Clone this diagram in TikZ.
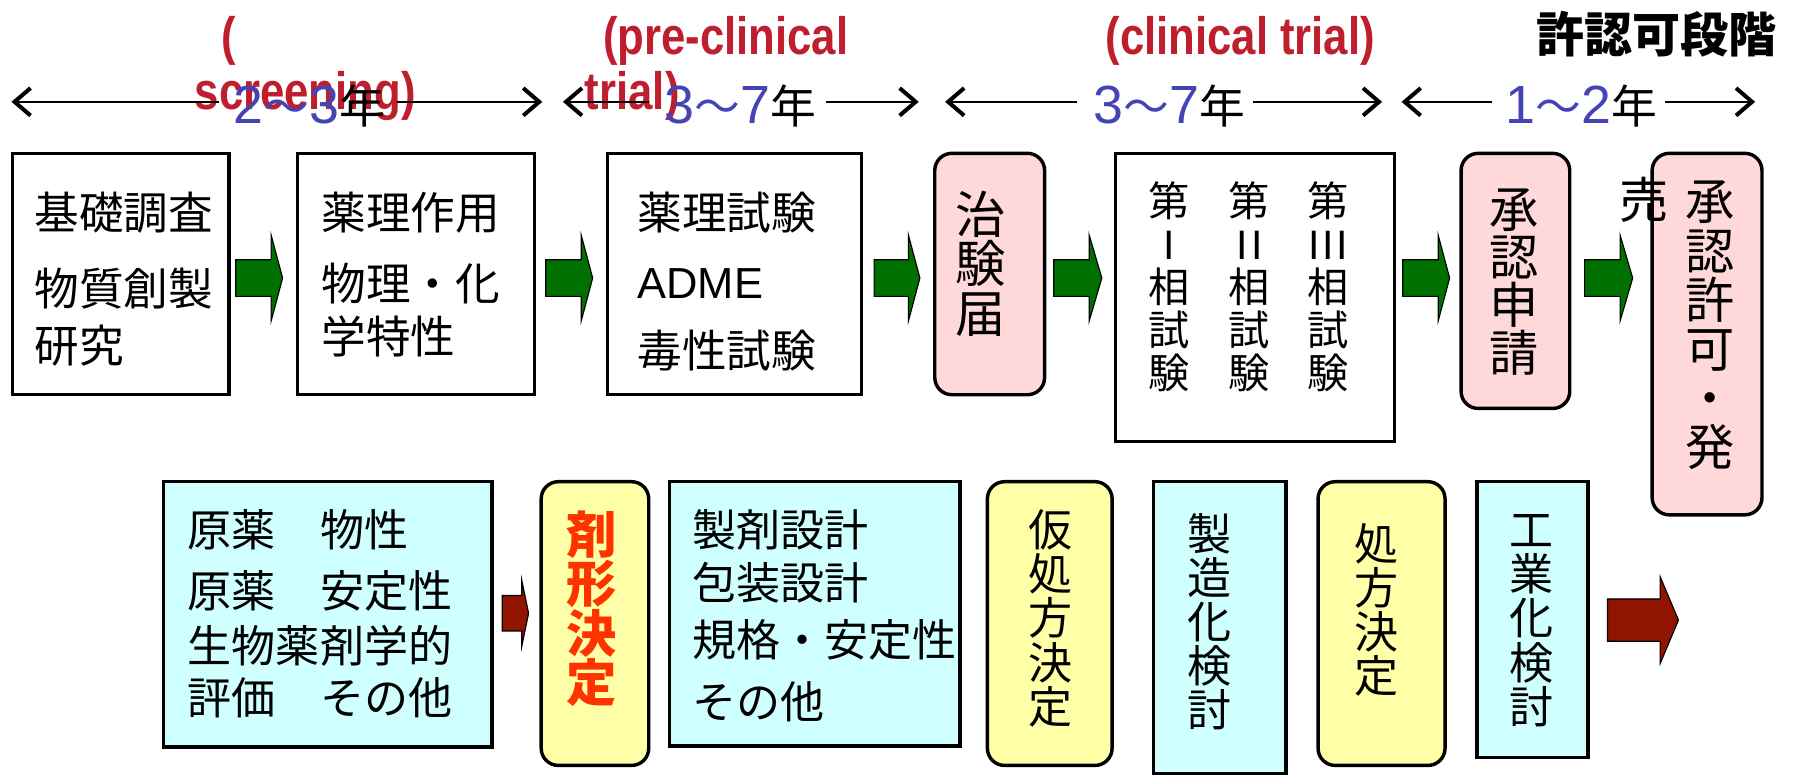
\documentclass[tikz,border=0pt]{standalone}
\usepackage{fontspec}
\usetikzlibrary{arrows.meta}
\setmainfont{Noto Sans CJK JP}
\newfontfamily\lsans{Liberation Sans}
\newfontfamily\narrowsans[FakeStretch=0.83]{Liberation Sans}
\definecolor{pinkbox}{RGB}{255,217,217}
\definecolor{cyanbox}{RGB}{208,255,255}
\definecolor{yelbox}{RGB}{255,255,168}
\definecolor{grn}{RGB}{0,112,0}
\definecolor{darkred}{RGB}{145,20,0}
\definecolor{redtxt}{RGB}{190,30,45}
\definecolor{bluetxt}{RGB}{68,68,180}
\definecolor{orangered}{RGB}{255,51,0}
\newcommand\yrnum[1]{{\lsans\fontsize{47}{50}\selectfont\color{bluetxt}#1}}
\newcommand\yrcjk[1]{{\fontsize{40}{44}\selectfont #1}}
\newcommand\vfa{\fontsize{44}{43}\selectfont}
\newcommand\vfb{\fontsize{43}{42}\selectfont}
\newcommand\vfc{\fontsize{43}{43}\selectfont}
\newcommand\vfd{\fontsize{38.5}{38.5}\selectfont}
\newcommand\vfe{\fontsize{36}{37.5}\selectfont}
\tikzset{
  box/.style={draw=black, line width=3pt, inner sep=0pt},
  whitebox/.style={box, fill=white},
  pinkb/.style={box, fill=pinkbox, rounded corners=15pt},
  yelb/.style={box, fill=yelbox, rounded corners=15pt},
  cyanb/.style={box, fill=cyanbox},
  txt/.style={inner sep=0pt, anchor=west, font=\fontsize{39}{44}\selectfont},
  txtb/.style={inner sep=0pt, anchor=west, font=\fontsize{38.5}{44}\selectfont},
  vtxt/.style={inner sep=0pt, align=center},
  redlab/.style={inner sep=0pt, anchor=base west, text=redtxt, font=\narrowsans\bfseries\fontsize{46}{46}\selectfont},
  yrlab/.style={inner sep=0pt, anchor=base},
  yline/.style={line width=1.5pt, -{Straight Barb[length=14pt,width=24pt,line width=3.5pt]}},
  fatarr/.style={draw=black, line width=1pt},
  pics/fatarrow/.style n args={4}{code={\path[pic actions] (0,-#3) -- (#1,-#3) -- (#1,-#4) -- (#2,0) -- (#1,#4) -- (#1,#3) -- (0,#3) -- cycle;}},
}
\begin{document}
\lineskiplimit=-100pt
\begin{tikzpicture}[x=1pt,y=-1pt]
\useasboundingbox (0,0) rectangle (1568,677);

% red phase labels
\node[redlab] (rs1) at (193,47.5) {(};
\node[redlab] (rs2) at (170,96) {screening)};
\node[redlab] (rp1) at (527,47.5) {(pre-clinical};
\node[redlab] (rp2) at (511,96) {trial)};
\node[redlab] (rc1) at (966,47.5) {(clinical trial)};

% duration arrows
\coordinate (l1) at (10,89);   \coordinate (r1) at (474,89);
\coordinate (l2) at (492,89);  \coordinate (r2) at (803,89);
\coordinate (l3) at (826,89);  \coordinate (r3) at (1208,89);
\coordinate (l4) at (1225,89); \coordinate (r4) at (1534,89);
\node[yrlab] (t1) at (270.5,108) {\yrnum{2}\yrcjk{\color{bluetxt}～}\yrnum{3}\yrcjk{年}};
\node[yrlab] (t2) at (647,108) {\yrnum{3}\yrcjk{\color{bluetxt}～}\yrnum{7}\yrcjk{年}};
\node[yrlab] (t3) at (1022,108) {\yrnum{3}\yrcjk{\color{bluetxt}～}\yrnum{7}\yrcjk{年}};
\node[yrlab] (t4) at (1382,108) {\yrnum{1}\yrcjk{\color{bluetxt}～}\yrnum{2}\yrcjk{年}};
\draw[yline, shorten <=13pt] (t1.west |- l1) -- (l1);
\draw[yline, shorten <=10pt] (t1.east |- r1) -- (r1);
\draw[yline, shorten <=13pt] (t2.west |- l2) -- (l2);
\draw[yline, shorten <=9pt] (t2.east |- r2) -- (r2);
\draw[yline, shorten <=14pt] (t3.west |- l3) -- (l3);
\draw[yline, shorten <=7pt] (t3.east |- r3) -- (r3);
\draw[yline, shorten <=12pt] (t4.west |- l4) -- (l4);
\draw[yline, shorten <=7pt] (t4.east |- r4) -- (r4);

\node[inner sep=0pt, anchor=base, font=\bfseries\fontsize{42}{42}\selectfont] (stage) at (1448,46) {許認可段階};

% row 1
\node[whitebox, minimum width=189pt, minimum height=211pt] (b1) at (105.5,239.5) {};
\node[txt] (b1a) at (30,186) {基礎調査};
\node[txt] (b1b) at (30,252) {物質創製};
\node[txt] (b1c) at (30,302) {研究};

\node[whitebox, minimum width=207pt, minimum height=211pt] (b2) at (363.5,239.5) {};
\node[txt] (b2a) at (281,186) {薬理作用};
\node[txt] (b2b) at (281,248) {物理・化};
\node[txt] (b2c) at (281,294) {学特性};

\node[whitebox, minimum width=222pt, minimum height=211pt] (b3) at (642,239.5) {};
\node[txt] (b3a) at (557,186) {薬理試験};
\node[txt, font=\lsans\fontsize{38}{44}\selectfont] (b3b) at (557,248) {ADME};
\node[txt] (b3c) at (557,306) {毒性試験};

\node[pinkb, minimum width=96pt, minimum height=211pt] (b4) at (865,239.5) {};
\node[vtxt, font=\vfa] (b4t) at (857,230.5) {治\\験\\届};

\node[whitebox, minimum width=244pt, minimum height=252pt] (b5) at (1097,260) {};
\node[vtxt, font=\vfe] (b5a) at (1022,250.5) {第\\{\lsans I}\\相\\試\\験};
\node[vtxt, font=\vfe] (b5b) at (1092,250.5) {第\\{\lsans I\kern3pt I}\\相\\試\\験};
\node[vtxt, font=\vfe] (b5c) at (1161,250.5) {第\\{\lsans I\kern2pt I\kern2pt I}\\相\\試\\験};

\node[pinkb, minimum width=95pt, minimum height=223pt] (b6) at (1324.5,245.5) {};
\node[vtxt, font=\vfb] (b6t) at (1323,246.5) {承\\認\\申\\請};

\node[pinkb, minimum width=96pt, minimum height=316pt] (b7) at (1492,292) {};
\node[vtxt, font=\vfc] (b7t) at (1495,284.5) {承\\認\\許\\可\\・\\発};
\node[inner sep=0pt, font=\vfc] (sell) at (1437,175) {売};

% green arrows
\pic[fill=grn, fatarr] at (206,243) {fatarrow={31}{41}{16}{37.5}};
\pic[fill=grn, fatarr] at (477,243) {fatarrow={31}{41}{16}{37.5}};
\pic[fill=grn, fatarr] at (764,243) {fatarrow={30}{40}{16}{37.5}};
\pic[fill=grn, fatarr] at (921,243) {fatarrow={31}{42}{16}{37.5}};
\pic[fill=grn, fatarr] at (1226,243) {fatarrow={31}{41}{16}{37.5}};
\pic[fill=grn, fatarr] at (1385,243) {fatarrow={31}{42}{16}{37.5}};

% row 2
\node[cyanb, minimum width=287pt, minimum height=232pt] (c1) at (286.5,537) {};
\node[txtb] (c1a) at (164,463) {原薬　物性};
\node[txtb] (c1b) at (164,516) {原薬　安定性};
\node[txtb] (c1c) at (164,564) {生物薬剤学的};
\node[txtb] (c1d) at (164,610) {評価　その他};

\pic[fill=darkred, fatarr] at (439,536) {fatarrow={17}{23}{15.5}{29}};

\node[yelb, minimum width=94pt, minimum height=248pt] (c2) at (520,545) {};
\node[vtxt, text=orangered, font=\vfa\bfseries] (c2t) at (517,532) {剤\\形\\決\\定};

\node[cyanb, minimum width=254pt, minimum height=231pt] (c3) at (712,536.5) {};
\node[txtb] (c3a) at (605,463) {製剤設計};
\node[txtb] (c3b) at (605,509) {包装設計};
\node[txtb] (c3c) at (605,559) {規格・安定性};
\node[txtb] (c3d) at (605,613) {その他};

\node[yelb, minimum width=109pt, minimum height=248pt] (c4) at (917.5,545) {};
\node[vtxt, font=\vfd] (c4t) at (918,540.5) {仮\\処\\方\\決\\定};

\node[cyanb, minimum width=116pt, minimum height=255pt] (c5) at (1066,548.5) {};
\node[vtxt, font=\vfd] (c5t) at (1057,543.5) {製\\造\\化\\検\\討};

\node[yelb, minimum width=111pt, minimum height=248pt] (c6) at (1207.5,545) {};
\node[vtxt, font=\vfd] (c6t) at (1203,533) {処\\方\\決\\定};

\node[cyanb, minimum width=97pt, minimum height=241pt] (c7) at (1339.5,541.5) {};
\node[vtxt, font=\vfd] (c7t) at (1339,542.5) {工\\業\\化\\検\\討};

\pic[fill=darkred, fatarr] at (1405,542) {fatarrow={46}{62}{18.5}{38}};
\end{tikzpicture}
\end{document}
